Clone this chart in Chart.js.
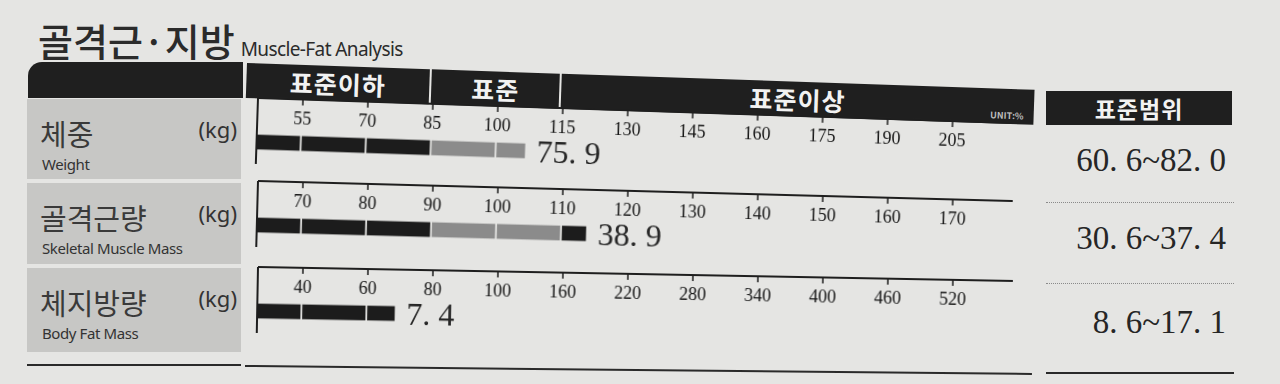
<!DOCTYPE html>
<html>
<head>
<meta charset="utf-8">
<script src="https://cdn.jsdelivr.net/npm/chart.js@4.4.1/dist/chart.umd.min.js"></script>
<style>
  html, body { margin: 0; padding: 0; }
  body { width: 1280px; height: 384px; background: #e5e5e3; position: relative; overflow: hidden;
         font-family: "Noto Sans", "Noto Sans CJK KR", sans-serif; color: #2a2a2a; }
  .abs { position: absolute; }
  .title { left: 38px; top: 12px; display: flex; align-items: baseline; gap: 6px; }
  .title .ko { font-family: "Noto Sans CJK KR"; font-size: 38px; font-weight: 500; color: #2b2b2b; }
  .title .en { font-size: 19px; letter-spacing: -0.6px; color: #2b2b2b; }
  .blk { background: #1f1f1f; }
  .zone { position: absolute; top: 0; height: 35px; background: #1f1f1f; color: #f2f2f2;
          font-family: "Noto Sans CJK KR"; font-weight: 700; font-size: 25px; line-height: 35px; text-align: center; letter-spacing: 1px; }
  .unit { position: absolute; right: 10px; bottom: 3px; font-size: 9px; line-height: 10px; font-weight: 700; color: #bdbdbd; letter-spacing: 0; }
  .box { background: #c7c7c5; left: 27px; width: 214px; }
  .box .ko { position: absolute; left: 13px; top: 17px; font-family: "Noto Sans CJK KR"; font-size: 29px; line-height: 34px; color: #3a3a3a; }
  .box .kg { position: absolute; right: 4px; top: 16px; font-size: 22px; line-height: 28px; color: #333; }
  .box .en { position: absolute; left: 15px; top: 55px; font-size: 15px; line-height: 20px; letter-spacing: -0.4px; color: #333; }
  .rowc { left: 247px; width: 790px; height: 72px; transform-origin: 11px 4px; }
  .range { right: 54px; font-family: "Liberation Serif"; font-size: 33px; line-height: 34px; color: #262626; }
  .dots { left: 1046px; width: 188px; border-top: 1.5px dotted #8a8a8a; }
  .hr { height: 2px; background: #2a2a2a; }
</style>
</head>
<body>
<div class="abs title"><span class="ko">골격근·지방</span><span class="en">Muscle-Fat Analysis</span></div>

<div class="abs blk" style="left:28px; top:62px; width:215px; height:36px; border-top-left-radius:14px;"></div>
<div class="abs" id="zones" style="left:247px; top:63px; width:788px; height:35px; transform-origin:0 0; transform:rotate(1.95deg);"></div>
<div class="abs blk" style="left:1046px; top:91px; width:186px; height:34px; color:#f2f2f2; font-family:'Noto Sans CJK KR'; font-weight:700; font-size:23px; line-height:34px; text-align:center; letter-spacing:1px;">표준범위</div>

<div id="boxes"></div>
<div id="rows"></div>
<div id="ranges"></div>

<div class="abs hr" style="left:27px; top:364px; width:214px;"></div>
<div class="abs hr" style="left:245px; top:365px; width:787px; transform-origin:0 0; transform:rotate(0.58deg);"></div>
<div class="abs hr" style="left:1046px; top:372px; width:188px;"></div>

<script>
// ---- data ----
const zoneLabels = ['표준이하', '표준', '표준이상'];
const rowNamesKo = ['체중', '골격근량', '체지방량'];
const rowNamesEn = ['Weight', 'Skeletal Muscle Mass', 'Body Fat Mass'];
const rowUnits = ['(kg)', '(kg)', '(kg)'];
const weightTicks = [55, 70, 85, 100, 115, 130, 145, 160, 175, 190, 205];
const smmTicks = [70, 80, 90, 100, 110, 120, 130, 140, 150, 160, 170];
const bfmTicks = [40, 60, 80, 100, 160, 220, 280, 340, 400, 460, 520];
const barPercent = [107, 114, 69];      // bar length, % of standard
const measuredKg = [75.9, 38.9, 7.4];
const rangeLow = [60.6, 30.6, 8.6];
const rangeHigh = [82.0, 37.4, 17.1];

// ---- layout ----
const rowTicks = [weightTicks, smmTicks, bfmTicks];
const rowLineY = [98, 181, 267];        // top rule of each row, at the left edge
const rowTilt = [1.9, 1.52, 1.06];      // photo is shot at a slight angle
const boxTop = [99, 183, 268], boxH = [80, 81, 84];
const rangeMid = [160, 238, 322], dotsY = [202, 283];
const X_MIN = -45 / 65, X_MAX = X_MIN + 755 / 65;
const PAPER = '#e5e5e3', DARK = '#1c1c1c', GREY = '#8b8b8b';

const fmt = v => v.toFixed(1).replace('.', '. ');

// position of a % value on a row's (possibly uneven) tick ladder
function toPos(pct, ticks) {
  if (pct <= ticks[0]) return (pct - ticks[0]) / (ticks[1] - ticks[0]);
  for (let i = 1; i < ticks.length; i++)
    if (pct <= ticks[i]) return i - 1 + (pct - ticks[i - 1]) / (ticks[i] - ticks[i - 1]);
  return ticks.length - 1;
}

// header zones
const zoneEdges = [[0, 183], [185, 313], [315, 788]];
const zonesEl = document.getElementById('zones');
zoneLabels.forEach((z, i) => {
  const d = document.createElement('div');
  d.className = 'zone';
  d.style.left = zoneEdges[i][0] + 'px';
  d.style.width = (zoneEdges[i][1] - zoneEdges[i][0]) + 'px';
  d.textContent = z;
  zonesEl.appendChild(d);
});
const u = document.createElement('div'); u.className = 'unit'; u.textContent = 'UNIT:%';
zonesEl.lastChild.appendChild(u);

// left label boxes + right ranges
rowNamesKo.forEach((name, i) => {
  const b = document.createElement('div');
  b.className = 'abs box';
  b.style.top = boxTop[i] + 'px'; b.style.height = boxH[i] + 'px';
  b.innerHTML = `<span class="ko">${name}</span><span class="kg">${rowUnits[i]}</span><span class="en">${rowNamesEn[i]}</span>`;
  document.getElementById('boxes').appendChild(b);

  const r = document.createElement('div');
  r.className = 'abs range';
  r.style.top = (rangeMid[i] - 17) + 'px';
  r.textContent = `${fmt(rangeLow[i])}~${fmt(rangeHigh[i])}`;
  document.getElementById('ranges').appendChild(r);
});
dotsY.forEach(y => {
  const d = document.createElement('div'); d.className = 'abs dots'; d.style.top = y + 'px';
  document.getElementById('ranges').appendChild(d);
});

// top rule, tick marks, left rule and value label for each row
const rowFrame = {
  id: 'rowFrame',
  beforeDatasetsDraw(chart) {
    const { ctx, chartArea, scales: { x } } = chart;
    ctx.save();
    ctx.strokeStyle = '#1e1e1e';
    ctx.lineWidth = 2;
    ctx.beginPath();
    ctx.moveTo(chartArea.left, 4); ctx.lineTo(chartArea.right, 4);
    ctx.moveTo(chartArea.left, 4); ctx.lineTo(chartArea.left, chart.height - 2);
    ctx.stroke();
    ctx.lineWidth = 1.5;
    ctx.beginPath();
    x.ticks.forEach(t => { const px = x.getPixelForValue(t.value); ctx.moveTo(px, 4); ctx.lineTo(px, 10); });
    ctx.stroke();
    ctx.restore();
  },
  afterDatasetsDraw(chart, args, opts) {
    const { ctx, scales: { x, y } } = chart;
    ctx.save();
    ctx.font = '32px "Liberation Serif"';
    ctx.fillStyle = '#262626';
    ctx.textBaseline = 'middle';
    ctx.fillText(fmt(opts.kg), x.getPixelForValue(opts.pos) + 10, y.getPixelForValue(0) + 3);
    ctx.restore();
  }
};

rowTicks.forEach((ticks, i) => {
  const wrap = document.createElement('div');
  wrap.className = 'abs rowc';
  wrap.style.top = (rowLineY[i] - 4) + 'px';
  wrap.style.transform = `rotate(${rowTilt[i]}deg)`;
  const cv = document.createElement('canvas');
  cv.width = 790; cv.height = 72;
  wrap.appendChild(cv);
  document.getElementById('rows').appendChild(wrap);

  const pos = toPos(barPercent[i], ticks);
  const edges = [X_MIN];
  for (let t = 0; t < pos; t++) edges.push(t);
  edges.push(pos);
  const datasets = [];
  for (let k = 0; k < edges.length - 1; k++) {
    const mid = (edges[k] + edges[k + 1]) / 2;
    datasets.push({
      data: [[edges[k], edges[k + 1]]],
      backgroundColor: mid > 2 && mid < 4 ? GREY : DARK,
      borderColor: PAPER,
      borderWidth: { left: 0, right: 2, top: 0, bottom: 0 },
      borderSkipped: false,
      barThickness: 15,
      grouped: false
    });
  }

  new Chart(cv, {
    type: 'bar',
    data: { labels: [rowNamesKo[i]], datasets },
    plugins: [rowFrame],
    options: {
      indexAxis: 'y',
      responsive: false,
      animation: false,
      layout: { padding: { left: 11, right: 24, top: 6, bottom: 8 } },
      plugins: {
        legend: { display: false },
        tooltip: { enabled: false },
        rowFrame: { kg: measuredKg[i], pos }
      },
      scales: {
        x: {
          type: 'linear', position: 'top', min: X_MIN, max: X_MAX,
          afterBuildTicks: s => { s.ticks = ticks.map((_, k) => ({ value: k })); },
          afterFit: s => { s.height = 26; },
          grid: { display: false },
          border: { display: false },
          ticks: {
            autoSkip: false, maxRotation: 0, padding: -11, color: '#151515',
            font: { family: 'Liberation Serif', size: 18 },
            callback: v => ticks[Math.round(v)]
          }
        },
        y: { display: false }
      }
    }
  });
});
</script>
</body>
</html>
